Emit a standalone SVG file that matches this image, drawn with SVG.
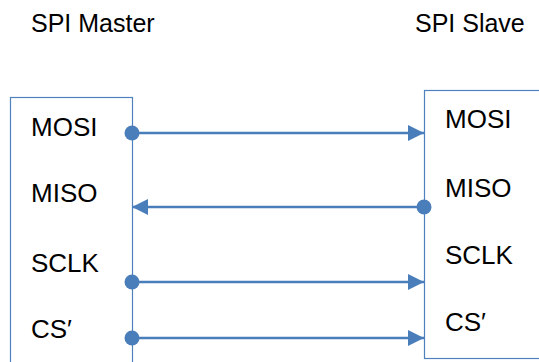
<svg xmlns="http://www.w3.org/2000/svg" width="539" height="362" viewBox="0 0 539 362">
<style>
.box{fill:#fff;stroke:#4f81bd;stroke-width:1.2}
.t{font-family:"Liberation Sans",Arial,sans-serif;fill:#000}
.title{font-size:25px}
.lbl{font-size:26px}
.wire{stroke:#4a7ebb;stroke-width:2.5;fill:none}
.dot{fill:#4a7ebb}
</style>
<defs>
<marker id="ah" viewBox="0 0 16 16" refX="16" refY="8" markerWidth="16" markerHeight="16" markerUnits="userSpaceOnUse" orient="auto">
<path d="M0,0 L16,8 L0,16 Z" fill="#4a7ebb"/>
</marker>
</defs>
<g id="title-master"><text class="t title" x="31" y="32">SPI Master</text></g>
<g id="title-slave"><text class="t title" x="415" y="32">SPI Slave</text></g>
<g id="master">
<rect class="box" x="10.5" y="97.5" width="122" height="280"/>
<text class="t lbl" x="31" y="136">MOSI</text>
<text class="t lbl" x="31" y="202">MISO</text>
<text class="t lbl" x="31" y="272">SCLK</text>
<text class="t lbl" x="31" y="338">CS′</text>
</g>
<g id="slave">
<rect class="box" x="424.5" y="90.5" width="130" height="268"/>
<text class="t lbl" x="445" y="128">MOSI</text>
<text class="t lbl" x="445" y="197">MISO</text>
<text class="t lbl" x="445" y="264">SCLK</text>
<text class="t lbl" x="445" y="331">CS′</text>
</g>
<g id="connectors">
<line class="wire" x1="132" y1="133" x2="424" y2="133" marker-end="url(#ah)"/>
<circle class="dot" cx="132" cy="133" r="7.5"/>
<line class="wire" x1="424" y1="207" x2="132" y2="207" marker-end="url(#ah)"/>
<circle class="dot" cx="424" cy="207" r="7.5"/>
<line class="wire" x1="132" y1="282" x2="424" y2="282" marker-end="url(#ah)"/>
<circle class="dot" cx="132" cy="282" r="7.5"/>
<line class="wire" x1="132" y1="338" x2="424" y2="338" marker-end="url(#ah)"/>
<circle class="dot" cx="132" cy="338" r="7.5"/>
</g>
</svg>
